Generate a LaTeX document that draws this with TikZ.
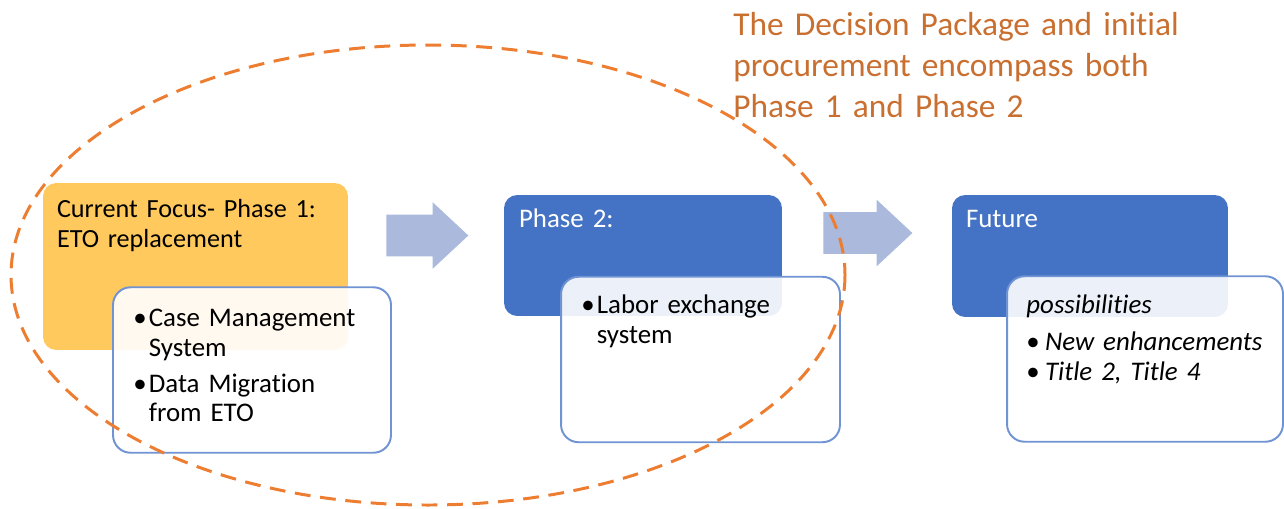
\documentclass[tikz,border=0pt]{standalone}
\usepackage{fontspec}
\setmainfont{Carlito}[Ligatures={NoCommon}]
\usepackage{xcolor}
\usepackage{tikz}
\usetikzlibrary{shapes,arrows,positioning}

\definecolor{phaseblue}{HTML}{4472C4}
\definecolor{phasegold}{HTML}{FFC95E}
\definecolor{stepblue}{HTML}{AAB9DC}
\definecolor{edgeblue}{HTML}{7093D3}
\definecolor{scopeorange}{HTML}{ED7D31}
\definecolor{notetext}{HTML}{C96F30}

\newcommand{\bitem}{\makebox[8.8pt][l]{\textbullet}}
\newcommand{\bcont}{\hspace*{8.8pt}}
\newcommand{\bitemwide}{\makebox[10.6pt][l]{\textbullet}}

\begin{document}
\begin{tikzpicture}[x=0.02cm, y=-0.02cm,
    phase/.style={rectangle, rounded corners=7.5pt, inner sep=0pt},
    detail/.style={rectangle, draw=edgeblue, line width=1.1pt, fill=white, fill opacity=0.9, rounded corners=10pt, inner sep=0pt, minimum height=3.31cm},
    steparrow/.style={single arrow, fill=stepblue, anchor=tail, inner xsep=0pt, inner ysep=0.41cm, single arrow head extend=0.25cm, single arrow tip angle=86, minimum width=1.32cm},
    boxtext/.style={anchor=base west, inner sep=0pt, text width=5.4cm, align=left, font=\fontsize{15.3}{17}\selectfont},
    scopeline/.style={draw=scopeorange, line width=1.7pt, dash pattern=on 9pt off 5.5pt}]

    \useasboundingbox (0,0) rectangle (1284,508);

    \node[phase, fill=phasegold, minimum width=6.10cm, minimum height=3.34cm] (p1) at (195.5,266.5) {};
    \node[phase, fill=phaseblue, minimum width=5.56cm, minimum height=2.42cm] (p2) at (643,255.5) {};
    \node[phase, fill=phaseblue, minimum width=5.52cm, minimum height=2.44cm] (p3) at (1090,256) {};

    \node[detail, minimum width=5.56cm] (d1) at (252,370) {};
    \node[detail, minimum width=5.58cm] (d2) at (700.5,359.5) {};
    \node[detail, minimum width=5.52cm] (d3) at (1145,359) {};

    \node[boxtext, font=\fontsize{14.9}{17}\selectfont] (p1title) at ([shift={(14,35)}]p1.north west) {Current Focus- Phase 1:\\ETO replacement};
    \node[boxtext, text=white] (p2title) at ([shift={(15,33)}]p2.north west) {Phase 2:};
    \node[boxtext, text=white] (p3title) at ([shift={(14,33)}]p3.north west) {Future};

    \node[boxtext] (d1text) at ([shift={(21,40)}]d1.north west) {\bitem Case Management\\\bcont System\\[3.4pt]\bitem Data Migration\\\bcont from ETO};
    \node[boxtext] (d2text) at ([shift={(21,38)}]d2.north west) {\bitem Labor exchange\\\bcont system};
    \node[boxtext] (d3text) at ([shift={(20,38)}]d3.north west) {\textit{possibilities}\\[4pt]\bitemwide\textit{New enhancements}\\\bitemwide\textit{Title 2, Title 4}};

    \node[steparrow, minimum height=1.64cm] (a1) at (386,235.5) {};
    \node[steparrow, minimum height=1.78cm] (a2) at (823,233) {};

    \draw[scopeline] (428,275) ellipse [x radius=417, y radius=230];

    \node[anchor=base west, inner sep=0pt, text width=10cm, align=left, text=notetext, font=\fontsize{19.0}{23.6}\selectfont] (note) at (733,35) {The Decision Package and initial\\procurement encompass both\\Phase 1 and Phase 2};

\end{tikzpicture}
\end{document}
